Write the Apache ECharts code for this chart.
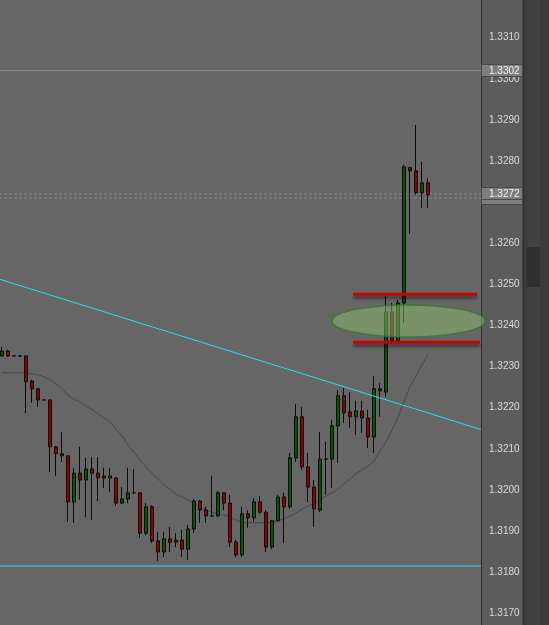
<!DOCTYPE html>
<html>
<head>
<meta charset="utf-8">
<script src="https://cdn.jsdelivr.net/npm/echarts@6/dist/echarts.min.js"></script>
<style>
html, body { margin: 0; padding: 0; background: #666666; }
#chart { width: 549px; height: 625px; }
</style>
</head>
<body>
<div id="chart"></div>
<script>
// candle prices, one entry per bar (index = bar number)
const opens = [1.32326,1.32338,1.32326,1.32326,1.32326,1.32265,1.32246,1.32219,1.32219,1.32105,1.32088,1.32083,
  1.31971,1.32041,1.32024,1.32051,1.32041,1.32029,1.32034,1.32029,1.31968,1.31978,1.31993,1.31993,
  1.31895,1.31959,1.31876,1.31849,1.31881,1.31873,1.31878,1.31856,1.31905,1.31973,1.31951,1.31937,
  1.31937,1.31993,1.31968,1.31873,1.31842,1.31942,1.31932,1.31971,1.31946,1.31861,1.31925,1.31983,
  1.31959,1.32078,1.32178,1.32056,1.32007,1.31951,1.32075,1.32075,1.32156,1.32229,1.32190,1.32178,
  1.32192,1.32175,1.32129,1.32246,1.32238,1.32433,1.32363,1.32455,1.32784,1.32776,1.32723,1.32747];
const closes = [1.32338,1.32326,1.32326,1.32326,1.32263,1.32246,1.32219,1.32219,1.32105,1.32088,1.32083,1.31971,
  1.32041,1.32024,1.32051,1.32041,1.32029,1.32034,1.32029,1.31968,1.31978,1.31993,1.31993,1.31895,
  1.31959,1.31876,1.31849,1.31881,1.31873,1.31878,1.31856,1.31905,1.31973,1.31951,1.31937,1.31937,
  1.31993,1.31968,1.31873,1.31842,1.31942,1.31932,1.31971,1.31946,1.31861,1.31925,1.31983,1.31959,
  1.32078,1.32178,1.32056,1.32007,1.31954,1.32075,1.32075,1.32156,1.32229,1.32187,1.32178,1.32192,
  1.32175,1.32129,1.32246,1.32241,1.32433,1.32363,1.32455,1.32786,1.32776,1.32723,1.32747,1.32718];
const lows = [1.32324,1.32324,1.32325,1.32325,1.32187,1.32212,1.32202,1.32218,1.32044,1.32034,1.32068,1.31922,
  1.31920,1.31976,1.31934,1.31927,1.31973,1.32005,1.31995,1.31961,1.31966,1.31968,1.31990,1.31883,
  1.31890,1.31871,1.31827,1.31837,1.31849,1.31861,1.31837,1.31830,1.31895,1.31920,1.31920,1.31934,
  1.31934,1.31951,1.31861,1.31837,1.31837,1.31908,1.31922,1.31942,1.31849,1.31856,1.31922,1.31871,
  1.31954,1.32068,1.32049,1.31971,1.31910,1.31946,1.31988,1.32005,1.32066,1.32163,1.32151,1.32134,
  1.32139,1.32102,1.32090,1.32178,1.32226,1.32355,1.32355,1.32406,1.32623,1.32718,1.32686,1.32686];
const highs = [1.32348,1.32341,1.32327,1.32327,1.32328,1.32268,1.32248,1.32220,1.32221,1.32107,1.32141,1.32085,
  1.32054,1.32105,1.32078,1.32080,1.32080,1.32054,1.32054,1.32031,1.32007,1.32054,1.32051,1.31995,
  1.31968,1.31963,1.31898,1.31898,1.31910,1.31895,1.31903,1.31915,1.31978,1.31976,1.31959,1.32034,
  1.31998,1.31995,1.31988,1.31878,1.31959,1.31951,1.31980,1.31985,1.31951,1.31927,1.31988,1.31993,
  1.32090,1.32209,1.32202,1.32090,1.32024,1.32141,1.32117,1.32170,1.32243,1.32248,1.32238,1.32217,
  1.32217,1.32195,1.32277,1.32260,1.32472,1.32455,1.32462,1.32791,1.32786,1.32888,1.32798,1.32759];
// moving average read per bar
const maValues = [1.32285,1.32285,1.32285,1.32285,1.32285,1.32282,1.32280,1.32275,1.32268,1.32258,1.32246,1.32231,
  1.32221,1.32214,1.32204,1.32195,1.32185,1.32175,1.32165,1.32148,1.32131,1.32109,1.32092,1.32073,
  1.32056,1.32041,1.32027,1.32012,1.32002,1.31990,1.31983,1.31976,1.31966,1.31959,1.31951,1.31946,
  1.31942,1.31939,1.31934,1.31927,1.31922,1.31920,1.31920,1.31920,1.31920,1.31922,1.31925,1.31930,
  1.31937,1.31944,1.31954,1.31961,1.31968,1.31976,1.31985,1.31993,1.32002,1.32015,1.32027,1.32039,
  1.32049,1.32058,1.32071,1.32095,1.32117,1.32146,1.32178,1.32214,1.32251,1.32277,1.32304,1.32329];

const trendLine = [[-0.5, 1.32513], [79.8333, 1.32147]];
const supportLevel = 1.31815;
const redZone = [[58.5, 79.17, 1.32476], [58.5, 79.67, 1.32359]];
const zoneEllipse = [67.75, 1.32411, 12.75, 0.00039]; // x, price, half width (bars), half height (price)
const priceLine = 1.3302;
const bidAsk = [1.3271, 1.3272];
const tagLevels = [1.3271, 1.3272, 1.3302];

const chart = echarts.init(document.getElementById('chart'));

function levelSeries(points, color, width, type, z, extra) {
  return Object.assign({
    type: 'line',
    data: points,
    showSymbol: false,
    silent: true,
    z: z,
    lineStyle: { color: color, width: width, type: type }
  }, extra || {});
}

const candleData = opens.map((o, i) => [i, o, closes[i], lows[i], highs[i]]);

const option = {
  backgroundColor: '#666666',
  animation: false,
  grid: { left: -1, width: 482, top: -3.4, height: 657.8, outerBoundsMode: 'none', containLabel: false },
  xAxis: { type: 'value', min: -0.5, max: 79.8333, show: false },
  yAxis: {
    type: 'value',
    position: 'right',
    min: 1.3160,
    max: 1.3320,
    interval: 0.001,
    axisLine: { show: true, onZero: false, lineStyle: { color: '#2e2e2e', width: 1 } },
    axisTick: { show: false },
    splitLine: { show: false },
    axisLabel: {
      showMinLabel: false,
      showMaxLabel: false,
      margin: 8,
      padding: [4, 0, 0, 0],
      color: '#dadada',
      fontSize: 10,
      fontFamily: 'Liberation Sans',
      formatter: v => v.toFixed(4)
    }
  },
  series: [
    {
      type: 'line',
      data: maValues.map((v, i) => [i, v]),
      showSymbol: false,
      smooth: true,
      silent: true,
      z: 1,
      lineStyle: { color: '#474747', width: 1 }
    },
    {
      type: 'candlestick',
      data: candleData,
      barWidth: 3,
      z: 2,
      itemStyle: {
        color: '#005800',
        color0: '#900000',
        borderColor: '#0a0a0a',
        borderColor0: '#0a0a0a',
        borderWidth: 1
      }
    },
    levelSeries([[-0.5, priceLine], [79.8333, priceLine]], '#8c8c8c', 1, 'solid', 1),
    levelSeries([[-0.5, bidAsk[0]], [79.8333, bidAsk[0]]], '#8a8a8a', 1, [3, 2], 1),
    levelSeries([[-0.5, bidAsk[1]], [79.8333, bidAsk[1]]], '#8a8a8a', 1, [3, 2], 1),
    levelSeries([[-0.5, supportLevel], [79.8333, supportLevel]], '#1fe3f2', 1, 'solid', 3),
    levelSeries(trendLine, '#1fe3f2', 1, 'solid', 3),
    {
      type: 'custom',
      silent: true,
      z: 4,
      data: [zoneEllipse],
      renderItem: function (params, api) {
        const c = api.coord([api.value(0), api.value(1)]);
        const e = api.coord([api.value(0) + api.value(2), api.value(1) + api.value(3)]);
        return {
          type: 'ellipse',
          shape: { cx: c[0], cy: c[1], rx: Math.abs(e[0] - c[0]), ry: Math.abs(e[1] - c[1]) },
          style: { fill: 'rgba(140,190,110,0.5)', stroke: 'rgba(60,115,50,0.85)', lineWidth: 1.5 }
        };
      }
    }
  ].concat(redZone.map(r => levelSeries([[r[0], r[2]], [r[1], r[2]]], '#d00000', 3, 'solid', 5, {
    lineStyle: { color: '#d00000', width: 3, shadowColor: 'rgba(0,0,0,0.45)', shadowBlur: 3, shadowOffsetY: 3 }
  })))
};

chart.setOption(option);

// right-hand panel and price tags
const graphics = [
  { type: 'rect', z: -1, shape: { x: 481, y: 0, width: 42, height: 625 }, style: { fill: '#5c5c5c' } },
  { type: 'rect', z: -1, shape: { x: 523, y: 0, width: 26, height: 625 }, style: { fill: '#3b3b3b' } },
  { type: 'rect', z: -1, shape: { x: 527, y: 0, width: 13, height: 625 }, style: { fill: '#414141' } },
  { type: 'rect', z: -1, shape: { x: 527, y: 247, width: 13, height: 40 }, style: { fill: '#2f2f2f' } },
  { type: 'line', z: -1, shape: { x1: 523, y1: 0, x2: 523, y2: 625 }, style: { stroke: '#2a2a2a', lineWidth: 1 } }
];
tagLevels.forEach((p, k) => {
  const y = Math.round(chart.convertToPixel({ yAxisIndex: 0 }, p));
  const h = k === 0 ? 13 : 12;
  graphics.push({ type: 'rect', z: 50, shape: { x: 481.5, y: y - 6.5, width: 41, height: h },
    style: { fill: '#7e7e7e', stroke: '#4a4a4a', lineWidth: 1 } });
  // the lower bid tag is mostly covered, its text is not visible
  if (k > 0) {
    graphics.push({ type: 'text', z: 51, style: { text: p.toFixed(4), x: 489, y: y, fill: '#f2f2f2',
      font: '10px "Liberation Sans"', verticalAlign: 'middle', textVerticalAlign: 'middle' } });
  }
});
chart.setOption({ graphic: graphics });
</script>
</body>
</html>
